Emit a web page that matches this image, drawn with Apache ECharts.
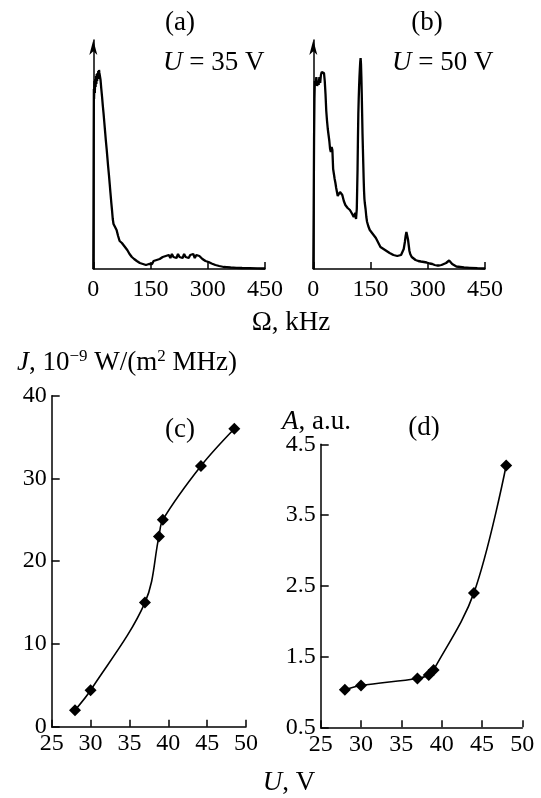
<!DOCTYPE html>
<html>
<head>
<meta charset="utf-8">
<script src="https://cdn.jsdelivr.net/npm/echarts@6/dist/echarts.min.js"></script>
<style>
html,body{margin:0;padding:0;background:#fff;}
#chart{width:541px;height:798px;}
</style>
</head>
<body>
<div id="chart"></div>
<script>
// ---------- data ----------
// (a) spectrum at U = 35 V : frequency (kHz) and amplitude (arb.)
const freqA = [0,0.5,1,1.5,2,3,4,5,6,7,8,9,10,11,12,13,14,15,16,17,19,21,23,25,27,29,31,33,35,37,39,41,43,45,47,49,51,53,55,57,59,61,63,65,67,69,71,73,75,77,79,81,83,86,89,92,95,98,101,104,107,110,114,118,122,126,130,134,138,142,146,150,154,158,162,166,170,174,178,182,186,190,194,198,202,206,210,214,218,222,226,230,234,238,242,246,250,254,258,262,266,270,274,278,282,286,290,294,298,302,306,310,315,320,325,330,336,342,350,360,375,390,410,430,450];
const ampA  = [0,60,130,180,170,188,176,190,182,193,185,195,188,196,190,198,194,199,196,194,189,180,172,163,155,146,137,128,120,111,102,94,85,76,67,59,50,45,43,42,40,39,37,33,31,28,29,27,26,24,25,23,22,21,19,17,15,14,12,11,10,9,8,7,6,6,5,5,4,6,5,7,5,8,6,9,8,10,9,12,10,13,11,14,11,15,12,14,11,15,12,14,11,15,12,13,11,14,12,15,11,14,12,13,11,10,9,8,7.5,7,6,5.5,5,4,3.5,3,2.5,2,1.8,1.5,1.2,1,0.8,0.6,0.5];
// (b) spectrum at U = 50 V
const freqB = [0,1,2,3,4,6,8,10,12,14,16,18,20,22,24,26,28,30,32,34,36,38,40,42,44,46,48,50,52,54,56,58,60,62,64,66,68,70,72,74,76,78,80,82,84,86,88,90,92,94,96,98,100,102,104,106,108,110,112,113,114,115,116,117,118,119,120,121,122,123,124,125,126,127,128,129,130,131,132,133,134,135,137,139,141,144,148,152,156,160,164,168,172,176,180,184,188,192,196,200,205,210,215,220,225,230,234,237,240,242,244,246,248,250,252,254,258,262,268,275,282,290,297,305,312,318,324,330,336,342,348,352,356,360,364,368,375,385,395,410,430,450];
const ampB  = [0,60,130,170,188,185,192,183,188,184,192,186,194,197,195,199,196,188,175,158,148,140,134,128,120,117,122,119,100,95,90,86,81,77,73,71,74,77,76,79,74,72,68,66,64,63,62,61,61,60,59,58,57,55,53,52,54,56,50,49,60,80,100,130,155,170,182,192,200,207,211,205,192,175,155,135,120,105,90,78,70,66,60,52,47,43,39,37,35,33,31,28,25,22,21,20,19,18,17,16,15,14,13.5,13,13,14,16,20,27,33,37,35,30,24,18,15,12,10,9,8,7.5,7,6.5,5.5,5,4,3.5,3.5,4,5,6,7,8.5,7,5,3.5,2.5,2,1.5,1.2,0.8,0.5];
// (c) J vs U
const voltC = [28, 30, 37, 38.8, 39.3, 44.2, 48.5];
const jC    = [2, 4.4, 15, 23, 25, 31.5, 36];
// (d) A vs U
const voltD = [28, 30, 37, 38.4, 39, 44, 48];
const aD    = [1.03, 1.09, 1.19, 1.24, 1.31, 2.4, 4.2];
// tick values
const ticksFreq = [0, 150, 300, 450];
const ticksU = [25, 30, 35, 40, 45, 50];
const ticksJ = [0, 10, 20, 30, 40];
const ticksA = [0.5, 1.5, 2.5, 3.5, 4.5];

// ---------- chart ----------
const FONT = '"Liberation Serif", "Times New Roman", serif';
const FS = 24;   // tick labels
const LS = 27;   // titles / axis names
const chart = echarts.init(document.getElementById('chart'), null, {renderer: 'canvas'});

const lineStyle = {color: '#000', width: 1.5};
function xAxisCommon(gridIndex, min, max, interval, margin) {
  return {
    type: 'value', gridIndex, min, max, interval,
    axisLine: {show: true, onZero: false, lineStyle},
    axisTick: {show: true, inside: true, length: 7, lineStyle},
    axisLabel: {show: true, color: '#000', fontFamily: FONT, fontSize: FS, margin, hideOverlap: false},
    splitLine: {show: false}
  };
}
function txt(x, y, text, align, rich) {
  return {type: 'text', x, y, style: {text, font: `${LS}px ${FONT}`, fill: '#000',
          align: align || 'left', verticalAlign: 'middle', rich: rich || {}}};
}
const ital = {i: {fontStyle: 'italic', fontSize: LS, fontFamily: FONT}};

const option = {
  animation: false,
  backgroundColor: '#fff',
  grid: [
    {left: 93.3, top: 40, width: 171.7, height: 229},
    {left: 313.3, top: 40, width: 171.7, height: 229},
    {left: 51.7, top: 395.7, width: 194.3, height: 331},
    {left: 320.7, top: 444.3, width: 201.6, height: 283}
  ],
  xAxis: [
    xAxisCommon(0, 0, 450, 150, 9),
    xAxisCommon(1, 0, 450, 150, 9),
    xAxisCommon(2, 25, 50, 5, 5),
    xAxisCommon(3, 25, 50, 5, 5)
  ],
  yAxis: [
    {type: 'value', gridIndex: 0, min: 0, max: 229,
     axisLine: {show: true, onZero: false, lineStyle, symbol: ['none', 'arrow'], symbolSize: [6, 15]},
     axisTick: {show: false}, axisLabel: {show: false}, splitLine: {show: false}},
    {type: 'value', gridIndex: 1, min: 0, max: 229,
     axisLine: {show: true, onZero: false, lineStyle, symbol: ['none', 'arrow'], symbolSize: [6, 15]},
     axisTick: {show: false}, axisLabel: {show: false}, splitLine: {show: false}},
    {type: 'value', gridIndex: 2, min: 0, max: 40, interval: 10,
     axisLine: {show: true, onZero: false, lineStyle},
     axisTick: {show: true, inside: true, length: 8, lineStyle},
     axisLabel: {color: '#000', fontFamily: FONT, fontSize: FS, margin: 5},
     splitLine: {show: false}},
    {type: 'value', gridIndex: 3, min: 0.5, max: 4.5,
     axisLine: {show: true, onZero: false, lineStyle},
     axisTick: {show: true, inside: true, length: 8, lineStyle, customValues: ticksA},
     axisLabel: {color: '#000', fontFamily: FONT, fontSize: FS, margin: 5, customValues: ticksA,
                 formatter: v => v.toFixed(1)},
     splitLine: {show: false}}
  ],
  series: [
    {type: 'line', xAxisIndex: 0, yAxisIndex: 0, showSymbol: false, symbol: 'none',
     lineStyle: {color: '#000', width: 2.3}, data: freqA.map((f, i) => [f, ampA[i]])},
    {type: 'line', xAxisIndex: 1, yAxisIndex: 1, showSymbol: false, symbol: 'none',
     lineStyle: {color: '#000', width: 2.3}, data: freqB.map((f, i) => [f, ampB[i]])},
    {type: 'line', xAxisIndex: 2, yAxisIndex: 2, smooth: 0.35, symbol: 'diamond', symbolSize: [12, 12],
     itemStyle: {color: '#000'}, lineStyle: {color: '#000', width: 1.6},
     data: voltC.map((u, i) => [u, jC[i]])},
    {type: 'line', xAxisIndex: 3, yAxisIndex: 3, smooth: 0.35, symbol: 'diamond', symbolSize: [12, 12],
     itemStyle: {color: '#000'}, lineStyle: {color: '#000', width: 1.6},
     data: voltD.map((u, i) => [u, aD[i]])}
  ],
  graphic: [
    txt(180, 23, '(a)', 'center'),
    txt(427, 23, '(b)', 'center'),
    txt(163, 63, '{i|U} = 35 V', 'left', ital),
    txt(392, 63, '{i|U} = 50 V', 'left', ital),
    txt(291, 323, 'Ω, kHz', 'center'),
    txt(17, 363, '{i|J}, 10{s|−9} W/(m{s|2} MHz)', 'left', {
      i: {fontStyle: 'italic', fontSize: LS, fontFamily: FONT, lineHeight: 30},
      s: {fontSize: 17, fontFamily: FONT, verticalAlign: 'top', lineHeight: 30}}),
    txt(180, 430, '(c)', 'center'),
    txt(282, 422, '{i|A}, a.u.', 'left', ital),
    txt(424, 428, '(d)', 'center'),
    txt(289, 783, '{i|U}, V', 'center', ital)
  ]
};
chart.setOption(option);
</script>
</body>
</html>
